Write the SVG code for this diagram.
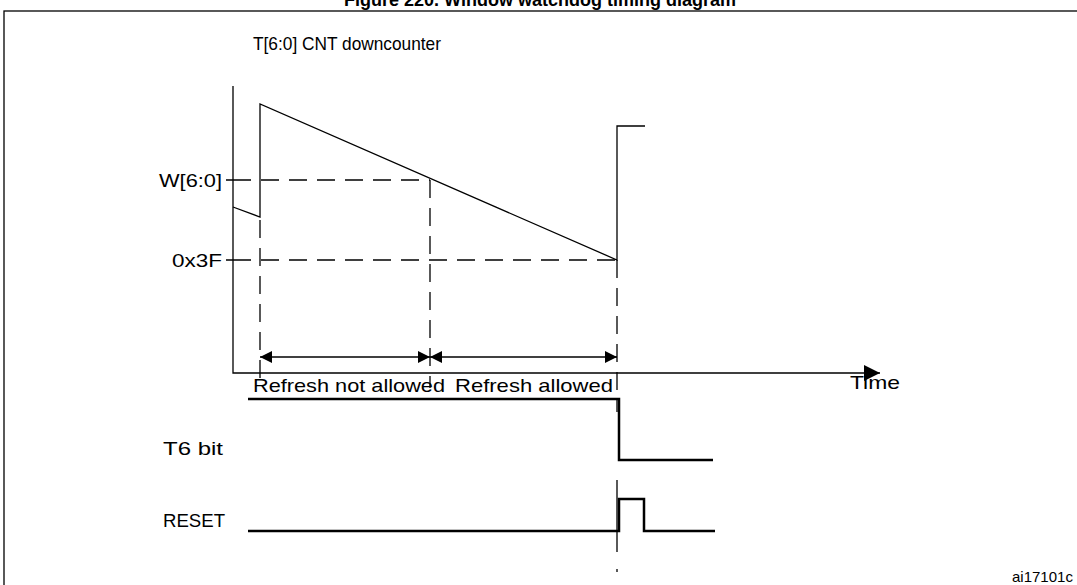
<svg xmlns="http://www.w3.org/2000/svg" width="1077" height="585" viewBox="0 0 1077 585">
<style>
text{font-family:"Liberation Sans",Arial,sans-serif;font-size:19px;fill:#000}
.s{fill:none;stroke:#000;stroke-width:1.3}
.w{fill:none;stroke:#000;stroke-width:2.5}
.d{fill:none;stroke:#000;stroke-width:1.3;stroke-dasharray:18,10}
</style>
<defs>
<marker id="a" viewBox="0 0 10 10" refX="10" refY="5" markerWidth="12" markerHeight="12" markerUnits="userSpaceOnUse" orient="auto-start-reverse"><path d="M0,0 L10,5 L0,10 z" fill="#000"/></marker>
<marker id="b" viewBox="0 0 10 10" refX="10" refY="5" markerWidth="20" markerHeight="16" markerUnits="userSpaceOnUse" orient="auto"><path d="M0,0 L10,5 L0,10 z" fill="#000"/></marker>
</defs>
<text x="540" y="6" text-anchor="middle" style="font-weight:bold;font-size:18px">Figure 220. Window watchdog timing diagram</text>
<rect x="4" y="11" width="1090" height="590" class="s" stroke-width="1.5"/>
<g id="labels">
<text x="253" y="50" textLength="188" lengthAdjust="spacingAndGlyphs">T[6:0] CNT downcounter</text>
<text x="159" y="187" textLength="63" lengthAdjust="spacingAndGlyphs">W[6:0]</text>
<text x="172" y="267" textLength="50" lengthAdjust="spacingAndGlyphs">0x3F</text>
<text x="253" y="392" textLength="192" lengthAdjust="spacingAndGlyphs">Refresh not allowed</text>
<text x="455" y="392" textLength="158" lengthAdjust="spacingAndGlyphs">Refresh allowed</text>
<text x="850" y="389" textLength="50" lengthAdjust="spacingAndGlyphs">Time</text>
<text x="163" y="455" textLength="60" lengthAdjust="spacingAndGlyphs">T6 bit</text>
<text x="163" y="527" textLength="62" lengthAdjust="spacingAndGlyphs">RESET</text>
<text x="1012" y="582" style="font-size:15px">ai17101c</text>
</g>
<g id="axes">
<path class="s" d="M233,86 V373 H880" marker-end="url(#b)"/>
<path class="s" d="M226,180 H233 M226,260 H233"/>
</g>
<g id="counter">
<path class="s" d="M233,207 L260,217 V104 L617,260 V126 H645"/>
</g>
<g id="connectors">
<path class="d" d="M233,180 H430 M233,260 H617"/>
<path class="d" d="M260,220 V388 M430,180 V388 M617,260 V400"/>
<path class="s" d="M260,357 H430" marker-start="url(#a)" marker-end="url(#a)"/>
<path class="s" d="M430,357 H617" marker-start="url(#a)" marker-end="url(#a)"/>
<path class="s" d="M617,400 V412 M617,480 V552 M617,569 V572"/>
</g>
<g id="t6">
<path class="w" d="M248,399 H619 V460 H713"/>
</g>
<g id="reset">
<path class="w" d="M248,531 H619 V499 H644 V531 H715"/>
</g>
</svg>
